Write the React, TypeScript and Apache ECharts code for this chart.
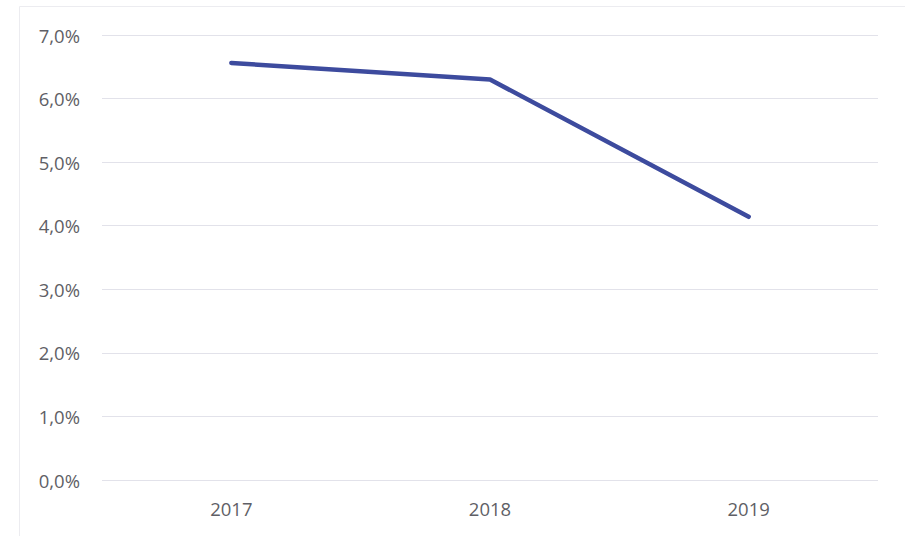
import React, { useEffect, useRef } from "react";
import * as echarts from "echarts";

const categories = ["2017", "2018", "2019"];
const values = [6.56, 6.3, 4.14];

export default function App() {
  const ref = useRef<HTMLDivElement>(null);
  useEffect(() => {
    if (!ref.current) return;
    const chart = echarts.init(ref.current, null, { renderer: "svg" });
    chart.setOption({
      animation: false,
      backgroundColor: "#ffffff",
      graphic: [
        {
          type: "rect",
          shape: { x: 19.5, y: 6.5, width: 900, height: 540 },
          style: { fill: "none", stroke: "#ececf0", lineWidth: 1 },
          silent: true,
        },
      ],
      grid: { left: 102, right: 27, top: 35, bottom: 56, containLabel: false },
      xAxis: {
        type: "category",
        data: categories,
        boundaryGap: true,
        axisLine: { show: false },
        axisTick: { show: false },
        axisLabel: {
          color: "#5f5f66",
          fontSize: 18.5,
          fontFamily: "Open Sans",
          margin: 19,
        },
      },
      yAxis: {
        type: "value",
        min: 0,
        max: 7,
        interval: 1,
        axisLine: { show: false },
        axisTick: { show: false },
        axisLabel: {
          color: "#5f5f66",
          fontSize: 18.5,
          fontFamily: "Open Sans",
          margin: 22,
          formatter: (v: number) => v.toFixed(1).replace(".", ",") + "%",
        },
        splitLine: { lineStyle: { color: "#e2e2ea", width: 1 } },
      },
      series: [
        {
          type: "line",
          data: values,
          symbol: "none",
          lineStyle: { color: "#3d4b9e", width: 4.5, cap: "round", join: "round" },
        },
      ],
    });
    return () => chart.dispose();
  }, []);
  return (
    <div
      ref={ref}
      style={{ position: "fixed", left: 0, top: 0, width: 905, height: 536 }}
    />
  );
}
